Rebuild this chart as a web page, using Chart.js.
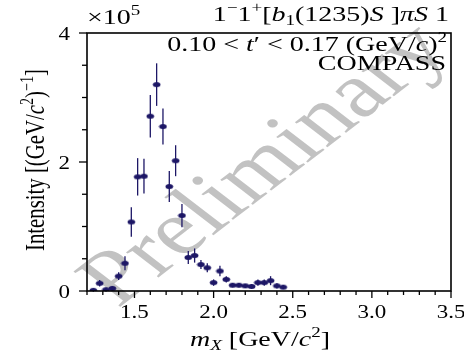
<!DOCTYPE html>
<html>
<head>
<meta charset="utf-8">
<script src="https://cdn.jsdelivr.net/npm/chart.js@4.4.1/dist/chart.umd.min.js"></script>
<style>
  html, body { margin: 0; padding: 0; background: #fff; }
  #wrap { width: 464px; height: 352px; }
</style>
</head>
<body>
<div id="wrap"><canvas id="c" width="464" height="352"></canvas></div>
<script>
// Bin centres of m_X in GeV/c^2
const massBins = [1.24, 1.28, 1.32, 1.36, 1.40, 1.44, 1.48, 1.52, 1.56, 1.60,
                  1.64, 1.68, 1.72, 1.76, 1.80, 1.84, 1.88, 1.92, 1.96, 2.00,
                  2.04, 2.08, 2.12, 2.16, 2.20, 2.24, 2.28, 2.32, 2.36, 2.40, 2.44];
// Intensity in units of 10^5 (GeV/c^2)^-1
const intensity = [0.01, 0.12, 0.02, 0.04, 0.23, 0.43, 1.07, 1.77, 1.78, 2.71,
                   3.20, 2.55, 1.62, 2.02, 1.17, 0.52, 0.55, 0.41, 0.36, 0.13,
                   0.31, 0.18, 0.09, 0.09, 0.08, 0.07, 0.13, 0.13, 0.16, 0.08, 0.06];
// Statistical uncertainty, same units
const intensityErr = [0.02, 0.05, 0.03, 0.03, 0.06, 0.11, 0.23, 0.29, 0.27, 0.33,
                      0.33, 0.28, 0.24, 0.24, 0.18, 0.10, 0.11, 0.07, 0.07, 0.05,
                      0.08, 0.05, 0.03, 0.03, 0.03, 0.03, 0.05, 0.05, 0.07, 0.04, 0.03];
const xTickValues = [1.5, 2.0, 2.5, 3.0, 3.5];
const xTickLabels = ['1.5', '2.0', '2.5', '3.0', '3.5'];
const yTickValues = [0, 2, 4];
const yTickLabels = ['0', '2', '4'];

const INK = '#1d1766';
const SERIF = '"Liberation Serif", "DejaVu Serif", serif';
const SQUASH = 0.77;   // vertical compression of the typeset text

// elliptical marker
function makeMarker() {
  const m = document.createElement('canvas');
  m.width = 9; m.height = 7;
  const g = m.getContext('2d');
  g.fillStyle = INK;
  g.beginPath();
  g.ellipse(4.5, 3.5, 3.8, 2.5, 0, 0, Math.PI * 2);
  g.fill();
  return m;
}

// rich text: pieces {t, i (italic), sup, sub}
function setFont(ctx, p, size) {
  const fs = size * (p.sup || p.sub ? 0.68 : 1);
  ctx.font = (p.i ? 'italic ' : '') + fs + 'px ' + SERIF;
}
function richWidth(ctx, parts, size) {
  let w = 0;
  for (const p of parts) { setFont(ctx, p, size); w += ctx.measureText(p.t).width; }
  return w;
}
function drawRich(ctx, parts, x, y, size, align, sy) {
  const w = richWidth(ctx, parts, size);
  let cx = align === 'right' ? -w : (align === 'center' ? -w / 2 : 0);
  ctx.save();
  ctx.translate(x, y);
  ctx.scale(1, sy);
  ctx.textBaseline = 'alphabetic';
  ctx.textAlign = 'left';
  for (const p of parts) {
    setFont(ctx, p, size);
    const dy = p.sup ? -size * 0.42 : (p.sub ? size * 0.2 : 0);
    ctx.fillText(p.t, cx, dy);
    cx += ctx.measureText(p.t).width;
  }
  ctx.restore();
}

const decorations = {
  id: 'decorations',
  beforeDatasetsDraw(chart) {
    const ctx = chart.ctx;
    // watermark
    ctx.save();
    ctx.translate(266, 166);
    ctx.scale(1, SQUASH);
    ctx.rotate(-Math.PI / 4);
    ctx.font = '100px ' + SERIF;
    ctx.fillStyle = 'rgba(170,170,170,0.72)';
    ctx.textAlign = 'center';
    ctx.textBaseline = 'middle';
    ctx.fillText('Preliminary', 0, 0);
    ctx.restore();
  },
  afterDatasetsDraw(chart) {
    const ctx = chart.ctx;
    const xs = chart.scales.x, ys = chart.scales.y;
    // error bars
    ctx.save();
    ctx.strokeStyle = INK;
    ctx.lineWidth = 1.3;
    massBins.forEach((m, i) => {
      const px = xs.getPixelForValue(m);
      ctx.beginPath();
      ctx.moveTo(px, ys.getPixelForValue(intensity[i] - intensityErr[i]));
      ctx.lineTo(px, ys.getPixelForValue(intensity[i] + intensityErr[i]));
      ctx.stroke();
    });
    ctx.restore();
  },
  afterDraw(chart) {
    const ctx = chart.ctx;
    const a = chart.chartArea;
    const xs = chart.scales.x, ys = chart.scales.y;
    ctx.save();
    ctx.strokeStyle = '#000';
    ctx.lineWidth = 1.6;
    ctx.strokeRect(a.left, a.top, a.right - a.left, a.bottom - a.top);
    ctx.lineWidth = 1.3;
    // outward ticks
    xs.ticks.forEach(t => {
      const px = xs.getPixelForValue(t.value);
      const major = Math.abs(t.value * 2 - Math.round(t.value * 2)) < 1e-6;
      ctx.beginPath();
      ctx.moveTo(px, a.bottom);
      ctx.lineTo(px, a.bottom + (major ? 7 : 4));
      ctx.stroke();
    });
    ys.ticks.forEach(t => {
      const py = ys.getPixelForValue(t.value);
      const major = Math.abs(t.value / 2 - Math.round(t.value / 2)) < 1e-6;
      ctx.beginPath();
      ctx.moveTo(a.left, py);
      ctx.lineTo(a.left - (major ? 8 : 5), py);
      ctx.stroke();
    });
    ctx.fillStyle = '#000';
    // tick labels
    xTickValues.forEach((v, i) => {
      drawRich(ctx, [{t: xTickLabels[i]}], xs.getPixelForValue(v), 318, 23, 'center', 0.82);
    });
    yTickValues.forEach((v, i) => {
      drawRich(ctx, [{t: yTickLabels[i]}], 70, ys.getPixelForValue(v) + 6.5, 23, 'right', 0.82);
    });
    // exponent
    drawRich(ctx, [{t: '\u00d710'}, {t: '5', sup: true}], 87, 24, 28, 'left', SQUASH);
    // wave label
    drawRich(ctx, [
      {t: '1'}, {t: '\u2212', sup: true}, {t: '1'}, {t: '+', sup: true},
      {t: '['}, {t: 'b', i: true}, {t: '1', sub: true}, {t: '(1235)'},
      {t: 'S', i: true}, {t: ' ]'}, {t: '\u03c0', i: true}, {t: 'S', i: true}, {t: ' 1'}
    ], 449, 21, 28, 'right', SQUASH);
    drawRich(ctx, [
      {t: '0.10 < '}, {t: 't', i: true}, {t: '\u2032'}, {t: ' < 0.17 (GeV/'},
      {t: 'c', i: true}, {t: ')'}, {t: '2', sup: true}
    ], 447, 51, 28, 'right', SQUASH);
    drawRich(ctx, [{t: 'COMPASS'}], 446, 70, 28, 'right', SQUASH);
    // axis titles
    drawRich(ctx, [{t: 'm', i: true}, {t: 'X', i: true, sub: true}, {t: ' [GeV/'},
                   {t: 'c', i: true}, {t: '2', sup: true}, {t: ']'}], 260, 346, 28, 'center', SQUASH);
    ctx.save();
    ctx.translate(44, 160);
    ctx.rotate(-Math.PI / 2);
    ctx.scale(SQUASH, 1);
    drawRich(ctx, [{t: 'Intensity [(GeV/'}, {t: 'c', i: true}, {t: '2', sup: true},
                   {t: ')'}, {t: '\u22121', sup: true}, {t: ']'}], 0, 0, 27, 'center', 1);
    ctx.restore();
    ctx.restore();
  }
};

new Chart(document.getElementById('c'), {
  type: 'scatter',
  data: {
    datasets: [{
      data: massBins.map((m, i) => ({x: m, y: intensity[i]})),
      pointStyle: makeMarker(),
      pointRadius: 4,
      pointHoverRadius: 4
    }]
  },
  options: {
    responsive: false,
    animation: false,
    events: [],
    layout: { padding: { left: 0, top: 33, right: 13, bottom: 0 } },
    plugins: { legend: { display: false }, tooltip: { enabled: false } },
    scales: {
      x: {
        type: 'linear', min: 1.2, max: 3.5,
        border: { display: false },
        grid: { display: false, drawTicks: false },
        ticks: { stepSize: 0.1, autoSkip: false, display: false },
        afterFit: s => { s.height = 61; s.paddingLeft = 0; s.paddingRight = 0; }
      },
      y: {
        min: 0, max: 4,
        border: { display: false },
        grid: { display: false, drawTicks: false },
        ticks: { stepSize: 0.5, autoSkip: false, display: false },
        afterFit: s => { s.width = 87; s.paddingTop = 0; s.paddingBottom = 0; }
      }
    }
  },
  plugins: [decorations]
});
</script>
</body>
</html>
